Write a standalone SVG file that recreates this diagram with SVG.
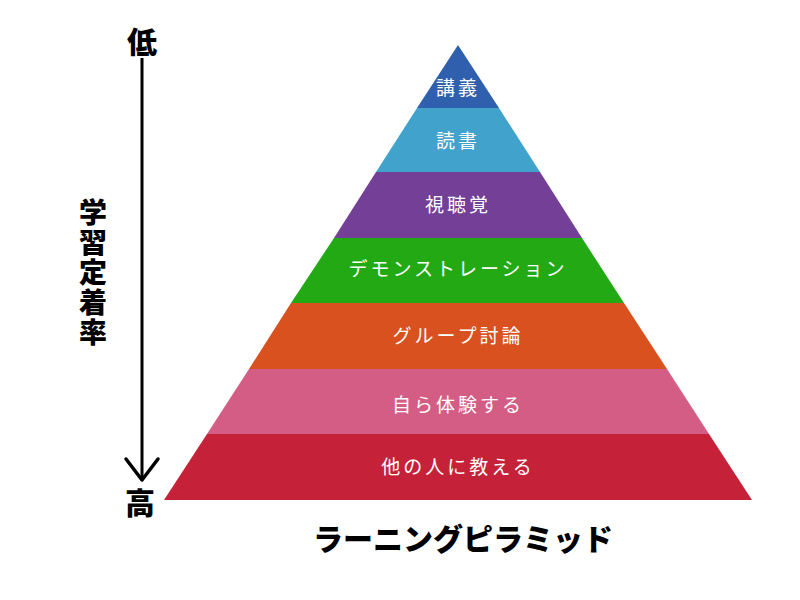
<svg xmlns="http://www.w3.org/2000/svg" width="800" height="600" viewBox="0 0 800 600">
<style>
.lbl{font-family:"Noto Sans CJK JP",sans-serif;font-size:19px;fill:#fff;text-anchor:middle;letter-spacing:3px}
.blk{font-family:"Noto Sans CJK JP",sans-serif;font-weight:900;fill:#000;text-anchor:middle}
</style>
<rect width="800" height="600" fill="#fff"/>
<g id="connectors">
<line x1="142" y1="58" x2="142" y2="479" stroke="#000" stroke-width="3"/>
<polyline points="126,459 142,480 158,459" fill="none" stroke="#000" stroke-width="3.5" stroke-linecap="round" stroke-linejoin="round"/>
</g>
<g id="axis-labels">
<text class="blk" x="142" y="53" font-size="30">低</text>
<text class="blk" x="140" y="514" font-size="30">高</text>
<text class="blk" font-size="28" x="93" y="198" style="writing-mode:vertical-rl;text-anchor:start;letter-spacing:2px">学習定着率</text>
</g>
<g id="band1"><polygon points="458,45 417,108 499,108" fill="#2f5fad"/><text class="lbl" x="458" y="95">講義</text></g>
<g id="band2"><polygon points="417,108 499,108 540,172 376,172" fill="#41a3cc"/><text class="lbl" x="458" y="148">読書</text></g>
<g id="band3"><polygon points="376,172 540,172 582,238 334,238" fill="#743f97"/><text class="lbl" x="458" y="212">視聴覚</text></g>
<g id="band4"><polygon points="334,238 582,238 624,303 291,303" fill="#22a914"/><text class="lbl" x="458" y="276">デモンストレーション</text></g>
<g id="band5"><polygon points="291,303 624,303 667,369 249,369" fill="#d8511e"/><text class="lbl" x="458" y="343">グループ討論</text></g>
<g id="band6"><polygon points="249,369 667,369 709,434 207,434" fill="#d45d86"/><text class="lbl" x="458" y="412">自ら体験する</text></g>
<g id="band7"><polygon points="207,434 709,434 752,500 164,500" fill="#c5223a"/><text class="lbl" x="458" y="474">他の人に教える</text></g>
<text class="blk" x="463" y="550" font-size="30">ラーニングピラミッド</text>
</svg>
